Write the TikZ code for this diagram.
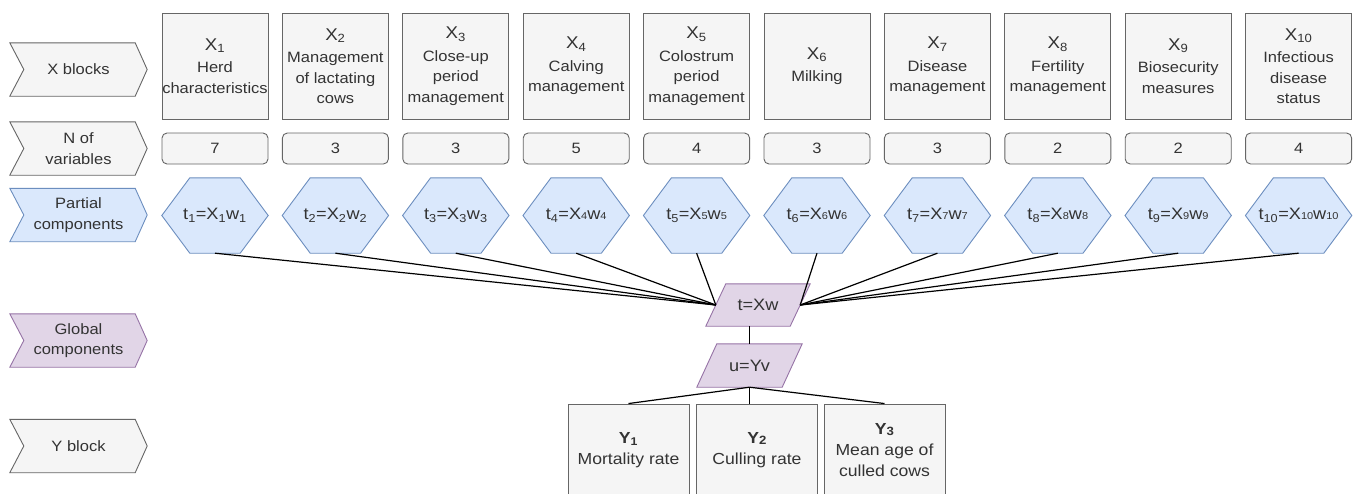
\documentclass[tikz,border=0pt]{standalone}
\usepackage{fontspec}
\setmainfont{Liberation Sans}[FakeStretch=1.1]
\usetikzlibrary{calc,backgrounds}
\definecolor{gfill}{HTML}{F5F5F5}
\definecolor{gdraw}{HTML}{666666}
\definecolor{gtext}{HTML}{333333}
\definecolor{bfill}{HTML}{DAE8FC}
\definecolor{bdraw}{HTML}{6C8EBF}
\definecolor{pfill}{HTML}{E1D5E7}
\definecolor{pdraw}{HTML}{9673A6}
\newcommand{\smd}[1]{{\fontsize{10}{10}\selectfont #1}}
\newcommand{\xlab}[1]{{\fontsize{17}{17}\selectfont X\textsubscript{#1}}}
\begin{document}
\begin{tikzpicture}[x=1pt,y=-1pt,font=\fontsize{15}{20.5}\selectfont,
  lbl/.style={minimum width=137pt,minimum height=53pt,inner sep=0pt,align=center,text=gtext},
  grayshape/.style={fill=gfill,draw=gdraw,line width=0.9pt},
  blueshape/.style={fill=bfill,draw=bdraw,line width=0.9pt},
  purpleshape/.style={fill=pfill,draw=pdraw,line width=0.9pt},
  xbox/.style={grayshape,text=gtext,minimum width=106pt,minimum height=106pt,inner sep=0pt,align=center},
  nbox/.style={grayshape,text=gtext,minimum width=106pt,minimum height=31pt,inner sep=0pt,rounded corners=5pt},
  hexnode/.style={minimum width=106pt,minimum height=75pt,inner sep=0pt,align=center,text=gtext,font=\fontsize{16.5}{18}\selectfont},
  paranode/.style={minimum height=42pt,inner sep=0pt,text=gtext,font=\fontsize{16.5}{18}\selectfont},
  ybox/.style={grayshape,text=gtext,minimum width=121pt,minimum height=92pt,inner sep=0pt,align=center,font=\fontsize{16}{21}\selectfont},
  conn/.style={draw=black,line width=1.2pt}]
\useasboundingbox (0,0) rectangle (1355,493);
\clip (0,0) rectangle (1355,493);
\begin{pgfonlayer}{background}
\fill[white] (0,0) rectangle (1355,493);
\end{pgfonlayer}

% left chevron labels
\foreach \n/\y/\s/\t in {cx/69.5/grayshape/{X blocks},
  cn/148.5/grayshape/{N of\\variables},
  cp/215/blueshape/{Partial\\components},
  cg/340.5/purpleshape/{Global\\components},
  cy/446/grayshape/{Y block}}{
  \node[lbl] (\n) at (78.5,\y) {\t};
  \begin{pgfonlayer}{background}
  \path[\s] (\n.north west) -- ($(\n.north east)+(-12,0)$) -- (\n.east)
     -- ($(\n.south east)+(-12,0)$) -- (\n.south west) -- ($(\n.west)+(14,0)$) -- cycle;
  \end{pgfonlayer}
}

% X blocks
\foreach \i/\txt in {1/{Herd\\characteristics},
  2/{Management\\of lactating\\cows},
  3/{Close-up\\period\\management},
  4/{Calving\\management},
  5/{Colostrum\\period\\management},
  6/{Milking},
  7/{Disease\\management},
  8/{Fertility\\management},
  9/{Biosecurity\\measures},
  10/{Infectious\\disease\\status}}{
  \node[xbox] (x\i) at ({215+120.4*(\i-1)},66) {\xlab{\i}\\[2pt]\txt};
}

% number of variables
\foreach \i/\n in {1/7,2/3,3/3,4/5,5/4,6/3,7/3,8/2,9/2,10/4}{
  \node[nbox] (n\i) at ({215+120.4*(\i-1)},148.5) {\n};
}

% partial components (hexagons)
\foreach \i/\txt in {1/{t\textsubscript{1}=X\textsubscript{1}w\textsubscript{1}},
  2/{t\textsubscript{2}=X\textsubscript{2}w\textsubscript{2}},
  3/{t\textsubscript{3}=X\textsubscript{3}w\textsubscript{3}},
  4/{t\textsubscript{4}=X\smd{4}w\smd{4}},
  5/{t\textsubscript{5}=X\smd{5}w\smd{5}},
  6/{t\textsubscript{6}=X\smd{6}w\smd{6}},
  7/{t\textsubscript{7}=X\smd{7}w\smd{7}},
  8/{t\textsubscript{8}=X\smd{8}w\smd{8}},
  9/{t\textsubscript{9}=X\smd{9}w\smd{9}},
  10/{t\textsubscript{10}=X\smd{10}w\smd{10}}}{
  \node[hexnode] (h\i) at ({215+120.4*(\i-1)},215.5) {\txt};
  \begin{pgfonlayer}{background}
  \path[blueshape] (h\i.west) -- ($(h\i.north west)+(28,0)$) -- ($(h\i.north east)+(-28,0)$)
     -- (h\i.east) -- ($(h\i.south east)+(-28,0)$) -- ($(h\i.south west)+(28,0)$) -- cycle;
  \end{pgfonlayer}
}

% global components
\node[paranode,minimum width=104pt] (t) at (758,305) {t=Xw};
\node[paranode,minimum width=105pt,minimum height=43pt] (u) at (749.5,365.5) {u=Yv};
\begin{pgfonlayer}{background}
\foreach \p in {t,u}{
  \path[purpleshape] (\p.south west) -- ($(\p.north west)+(20,0)$) -- (\p.north east)
     -- ($(\p.south east)+(-20,0)$) -- cycle;
}
\end{pgfonlayer}
\coordinate (tw) at ($(t.west)+(10,0)$);
\coordinate (te) at ($(t.east)+(-10,0)$);

% Y block
\node[ybox] (y1) at (628.5,450) {{\bfseries Y\textsubscript{1}}\\Mortality rate};
\node[ybox] (y2) at (757,450) {{\bfseries Y\raisebox{-1pt}{\fontsize{12}{12}\selectfont 2}}\\Culling rate};
\node[ybox] (y3) at (884.5,450) {{\bfseries Y\raisebox{-1pt}{\fontsize{12}{12}\selectfont 3}}\\Mean age of\\culled cows};

% connectors
\foreach \i in {1,...,5}{\draw[conn] (h\i.south) -- (tw);}
\foreach \i in {6,...,10}{\draw[conn] (h\i.south) -- (te);}
\draw[conn] (t.south -| u.center) -- (u.north);
\draw[conn] (u.south) -- (y1.north);
\draw[conn] (u.south) -- (u.south |- y2.north);
\draw[conn] (u.south) -- (y3.north);
\end{tikzpicture}
\end{document}
